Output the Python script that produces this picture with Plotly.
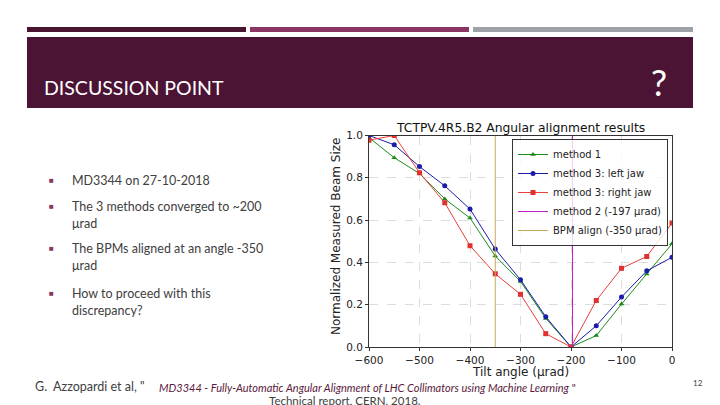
import plotly.graph_objects as go

# ---------------- data ----------------
tilt_angles = [-600, -550, -500, -450, -400, -350, -300, -250, -200, -150, -100, -50, 0]
method1 = [0.99, 0.895, 0.82, 0.70, 0.61, 0.43, 0.31, 0.135, 0.0, 0.054, 0.203, 0.345, 0.488]
method3_left = [1.0, 0.956, 0.853, 0.762, 0.652, 0.463, 0.318, 0.143, 0.0, 0.10, 0.236, 0.36, 0.424]
method3_right = [0.978, 1.0, 0.824, 0.682, 0.479, 0.346, 0.249, 0.063, 0.0, 0.22, 0.372, 0.428, 0.586]
method2_angle = -197
bpm_angle = -350
vline_y = [0.0, 1.0]

x_ticks = [-600, -500, -400, -300, -200, -100, 0]
y_ticks = [0.0, 0.2, 0.4, 0.6, 0.8, 1.0]

bullets = [
    ["MD3344 on 27-10-2018"],
    ["The 3 methods converged to ~200", "μrad"],
    ["The BPMs aligned at an angle -350", "μrad"],
    ["How to proceed with this", "discrepancy?"],
]

W, H = 720, 405
def px(x):
    return x / W
def py(y):
    return 1 - y / H

fig = go.Figure()

fig.add_trace(go.Scatter(x=tilt_angles, y=method1, name="method 1", mode="lines+markers",
                         line=dict(color="#1a8a1a", width=1),
                         marker=dict(symbol="triangle-up", size=5, color="#1a8a1a")))
fig.add_trace(go.Scatter(x=tilt_angles, y=method3_left, name="method 3: left jaw", mode="lines+markers",
                         line=dict(color="#1c1ca8", width=1),
                         marker=dict(symbol="circle", size=5, color="#1c1ca8")))
fig.add_trace(go.Scatter(x=tilt_angles, y=method3_right, name="method 3: right jaw", mode="lines+markers",
                         line=dict(color="#e8403a", width=1),
                         marker=dict(symbol="square", size=5, color="#e03030")))
fig.add_trace(go.Scatter(x=[method2_angle, method2_angle], y=vline_y, name="method 2 (-197 μrad)",
                         mode="lines", line=dict(color="#c020c8", width=1)))
fig.add_trace(go.Scatter(x=[bpm_angle, bpm_angle], y=vline_y, name="BPM align (-350 μrad)",
                         mode="lines", line=dict(color="#c8aa55", width=1)))

chart_font = "DejaVu Sans"
fig.update_layout(
    width=W, height=H,
    margin=dict(l=0, r=0, t=0, b=0, autoexpand=False),
    paper_bgcolor="white", plot_bgcolor="white",
    showlegend=True,
    legend=dict(x=px(668), y=py(139), xanchor="right", yanchor="top",
                bgcolor="rgba(255,255,255,0.8)", bordercolor="#333333", borderwidth=1,
                font=dict(family=chart_font, size=10, color="#222222"),
                tracegroupgap=0, itemwidth=30),
    xaxis=dict(domain=[px(369), px(672)], range=[-600, 0], tickvals=x_ticks, automargin=False,
               showgrid=True, gridcolor="#dcdcdc", griddash="dash", gridwidth=1,
               zeroline=False, showline=True, linecolor="#333333", mirror=True, linewidth=1,
               ticks="outside", ticklen=3, tickcolor="#333333",
               tickfont=dict(family=chart_font, size=10.5, color="#222222")),
    yaxis=dict(domain=[py(347), py(135.5)], range=[0, 1], tickvals=y_ticks, tickformat=".1f",
               automargin=False,
               showgrid=True, gridcolor="#dcdcdc", griddash="dash", gridwidth=1,
               zeroline=False, showline=True, linecolor="#333333", mirror=True, linewidth=1,
               ticks="outside", ticklen=3, tickcolor="#333333",
               tickfont=dict(family=chart_font, size=10.5, color="#222222")),
)

# slide decoration
shapes = [
    dict(type="rect", xref="paper", yref="paper", x0=px(27), x1=px(246), y0=py(32), y1=py(27),
         fillcolor="#4a1430", line=dict(width=0), layer="below"),
    dict(type="rect", xref="paper", yref="paper", x0=px(250), x1=px(469), y0=py(32), y1=py(27),
         fillcolor="#8a3563", line=dict(width=0), layer="below"),
    dict(type="rect", xref="paper", yref="paper", x0=px(473), x1=px(693), y0=py(32), y1=py(27),
         fillcolor="#9ca2a7", line=dict(width=0), layer="below"),
    dict(type="rect", xref="paper", yref="paper", x0=px(27), x1=px(693), y0=py(108), y1=py(37),
         fillcolor="#4c1434", line=dict(width=0), layer="below"),
]
fig.update_layout(shapes=shapes)

slide_font = "Lato"
ann = []
ann.append(dict(x=px(42), y=py(88), xref="paper", yref="paper", xanchor="left", yanchor="middle",
                text="DISCUSSION POINT", showarrow=False,
                font=dict(family=slide_font, size=19.5, color="white")))
ann.append(dict(x=px(659), y=py(82), xref="paper", yref="paper", xanchor="center", yanchor="middle",
                text="?", showarrow=False, font=dict(family=slide_font, size=36, color="white")))
ann.append(dict(x=px(520), y=py(128), xref="paper", yref="paper", xanchor="center", yanchor="middle",
                text="TCTPV.4R5.B2 Angular alignment results", showarrow=False,
                font=dict(family=chart_font, size=12.3, color="#111111")))
ann.append(dict(x=px(336), y=py(237), xref="paper", yref="paper", xanchor="center", yanchor="middle",
                text="Normalized Measured Beam Size", textangle=-90, showarrow=False,
                font=dict(family=chart_font, size=12, color="#222222")))
ann.append(dict(x=px(520), y=py(372), xref="paper", yref="paper", xanchor="center", yanchor="middle",
                text="Tilt angle (μrad)", showarrow=False,
                font=dict(family=chart_font, size=12, color="#222222")))

bullet_y = [180, 206, 248, 293]
for lines, y0 in zip(bullets, bullet_y):
    ann.append(dict(x=px(52), y=py(y0), xref="paper", yref="paper", xanchor="center", yanchor="middle",
                    text="■", showarrow=False, font=dict(family=slide_font, size=8, color="#8a3563")))
    for i, line in enumerate(lines):
        ann.append(dict(x=px(70), y=py(y0 + i * 17), xref="paper", yref="paper", xanchor="left",
                        yanchor="middle", text=line, showarrow=False,
                        font=dict(family=slide_font, size=12.5, color="#404040")))

ann.append(dict(x=px(33), y=py(386), xref="paper", yref="paper", xanchor="left", yanchor="middle",
                text="G.  Azzopardi et al, \"", showarrow=False,
                font=dict(family=slide_font, size=12.5, color="#404040")))
ann.append(dict(x=px(157), y=py(387), xref="paper", yref="paper", xanchor="left", yanchor="middle",
                text="<i>MD3344 - Fully-Automatic Angular Alignment of LHC Collimators using Machine Learning</i> \"",
                showarrow=False, font=dict(family=slide_font, size=11, color="#5a1a3c")))
ann.append(dict(x=px(345), y=py(400), xref="paper", yref="paper", xanchor="center", yanchor="middle",
                text="Technical report, CERN, 2018.", showarrow=False,
                font=dict(family=slide_font, size=11.5, color="#404040")))
ann.append(dict(x=px(698), y=py(383), xref="paper", yref="paper", xanchor="center", yanchor="middle",
                text="12", showarrow=False, font=dict(family=slide_font, size=8, color="#404040")))
fig.update_layout(annotations=ann)

fig.write_html("out.html", config={"displayModeBar": False},
               post_script="document.body.style.margin='0';document.body.style.overflow='hidden';")
